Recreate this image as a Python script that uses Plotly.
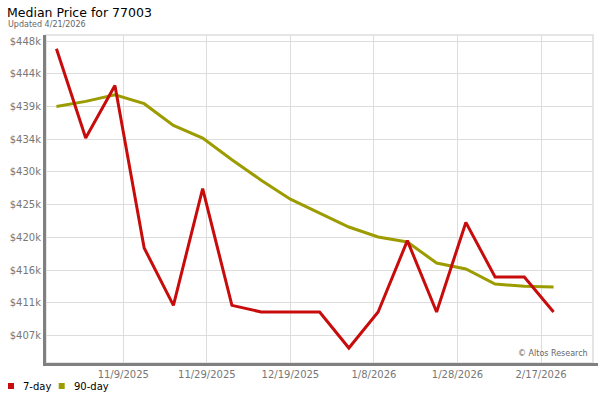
import plotly.graph_objects as go

# ---- data ----
dates = ["2025-10-24", "2025-10-31", "2025-11-07", "2025-11-14", "2025-11-21", "2025-11-28",
         "2025-12-05", "2025-12-12", "2025-12-19", "2025-12-26", "2026-01-02", "2026-01-09",
         "2026-01-16", "2026-01-23", "2026-01-30", "2026-02-06", "2026-02-13", "2026-02-20"]
price_7day = [446830, 434370, 441710, 419030, 411030, 427300, 411030, 410110, 410110,
              410110, 405080, 410110, 420050, 410110, 422600, 414990, 414990, 410110]
price_90day = [438780, 439480, 440410, 439160, 436130, 434370, 431350, 428490, 425840,
               423950, 421960, 420570, 419870, 416940, 416100, 414010, 413680, 413590]
series_names = ["7-day", "90-day"]

y_tickvals = [406800, 411367, 415933, 420500, 425067, 429633, 434200, 438767, 443333, 447900]
y_ticktext = ["$407k", "$411k", "$416k", "$420k", "$425k", "$430k", "$434k", "$439k", "$444k", "$448k"]
x_tickvals = ["2025-11-09", "2025-11-29", "2025-12-19", "2026-01-08", "2026-01-28", "2026-02-17"]
x_ticktext = ["11/9/2025", "11/29/2025", "12/19/2025", "1/8/2026", "1/28/2026", "2/17/2026"]

RED = "#c80c0c"
OLIVE = "#9c9c00"
FONT = "DejaVu Sans"

fig = go.Figure()
fig.add_trace(go.Scatter(x=dates, y=price_90day, mode="lines", name=series_names[1],
                         line=dict(color=OLIVE, width=3), showlegend=False))
fig.add_trace(go.Scatter(x=dates, y=price_7day, mode="lines", name=series_names[0],
                         line=dict(color=RED, width=3), showlegend=False))

W, H = 600, 400
L, T, R, B = 46.0, 35.0, 7.0, 37.0
PW = W - L - R
PH = H - T - B


def px(fx):
    return (fx - L) / PW


def py(fy):
    return (T + PH - fy) / PH


legend_items = [(series_names[0], RED, 8.0, 21.0), (series_names[1], OLIVE, 58.7, 71.7)]
shapes = [
    dict(type="rect", xref="paper", yref="paper", x0=0, x1=1, y0=0, y1=1,
         line=dict(color="#dddddd", width=1.5), layer="below"),
    dict(type="line", xref="paper", yref="paper", x0=1, x1=px(598), y0=py(364.5), y1=py(364.5),
         line=dict(color="#808080", width=3)),
]
annotations = [
    dict(text="Updated 4/21/2026", xref="paper", yref="paper", x=px(6), y=py(25),
         xanchor="left", yanchor="middle", showarrow=False,
         font=dict(family=FONT, size=8, color="#666666")),
    dict(text="© Altos Research", xref="paper", yref="paper", x=px(590), y=py(353),
         xanchor="right", yanchor="middle", showarrow=False,
         font=dict(family=FONT, size=8, color="#666666")),
]
for name, col, sx, tx in legend_items:
    shapes.append(dict(type="rect", xref="paper", yref="paper",
                       x0=px(sx), x1=px(sx + 6), y0=py(389), y1=py(383),
                       fillcolor=col, line=dict(width=0)))
    annotations.append(dict(text=name, xref="paper", yref="paper", x=px(tx), y=py(386),
                            xanchor="left", yanchor="middle", showarrow=False,
                            font=dict(family=FONT, size=10, color="#000000")))

fig.update_layout(
    width=W, height=H,
    margin=dict(l=L, r=R, t=T, b=B, autoexpand=False),
    paper_bgcolor="white", plot_bgcolor="white",
    font=dict(family=FONT, size=10, color="#777777"),
    showlegend=False,
    title=dict(text="Median Price for 77003", x=7 / W, xanchor="left", xref="container",
               y=1 - 12.5 / H, yanchor="middle", yref="container",
               font=dict(family=FONT, size=12.5, color="#000000")),
    annotations=annotations,
    shapes=shapes,
)

fig.update_xaxes(
    range=["2025-10-21 12:00", "2026-03-01 10:30"],
    tickvals=x_tickvals, ticktext=x_ticktext, automargin=False,
    showgrid=True, gridcolor="#dddddd", gridwidth=1,
    showline=True, linecolor="#808080", linewidth=3,
    ticks="", zeroline=False,
    tickfont=dict(family=FONT, size=10, color="#777777"),
)
fig.update_yaxes(
    range=[402990, 448740],
    tickvals=y_tickvals, ticktext=y_ticktext, automargin=False,
    showgrid=True, gridcolor="#dddddd", gridwidth=1,
    showline=True, linecolor="#808080", linewidth=3,
    ticks="", zeroline=False,
    tickfont=dict(family=FONT, size=10, color="#777777"),
)

# remove the page's default 8px body margin so the 600x400 figure fills the window
fig.write_html("out.html", config={"displayModeBar": False},
               post_script="document.body.style.margin='0';")
